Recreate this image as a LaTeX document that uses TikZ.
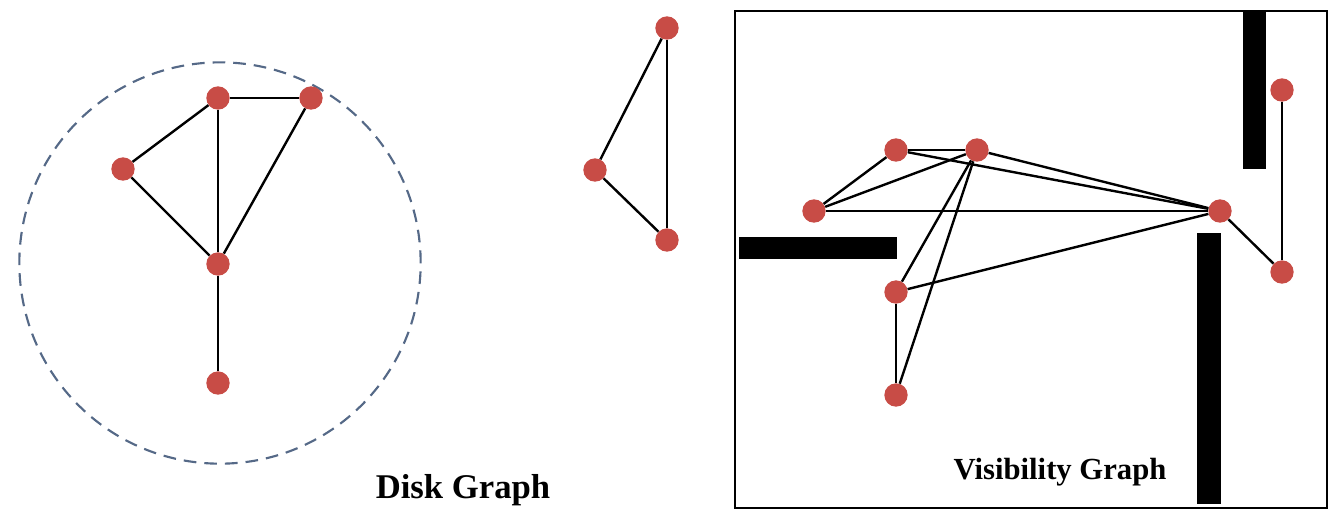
\documentclass[tikz,border=0pt]{standalone}
\usepackage{fontspec}
\setmainfont{Liberation Serif}
\usepackage{tikz}
\usetikzlibrary{positioning}

\definecolor{vertexred}{RGB}{200,76,70}
\definecolor{diskblue}{RGB}{85,105,135}

\begin{document}
\begin{tikzpicture}[
    x=0.75pt, y=-0.75pt,
    vertex/.style={circle, fill=vertexred, minimum size=17.5pt, inner sep=0pt},
    link/.style={line width=1.8pt, black},
    obstacle/.style={fill=black, draw=none},
    caption/.style={font=\bfseries, inner sep=0pt},
]
    \useasboundingbox (0,0) rectangle (1334,512);

    % disk graph
    \node (range) [circle, draw=diskblue, dashed, dash pattern=on 9.5pt off 6pt, line width=1.6pt, minimum size=301pt, inner sep=0pt] at (220,263) {};
    \node (d_top) [vertex] at (218,98) {};
    \node (d_right) [vertex] at (311,98) {};
    \node (d_left) [vertex] at (123,169) {};
    \node (d_mid) [vertex] at (218,264) {};
    \node (d_low) [vertex] at (218,383) {};
    \node (disk_label) [caption, font=\fontsize{26}{30}\selectfont\bfseries] at (463,490) {Disk Graph};

    % separate triangle
    \node (t_top) [vertex] at (667,28) {};
    \node (t_left) [vertex] at (595,170) {};
    \node (t_low) [vertex] at (667,240) {};

    % visibility graph frame and obstacles
    \draw [line width=1.6pt] (735,11) rectangle (1327,508);
    \fill [obstacle] (1243,12) rectangle (1266,169);
    \fill [obstacle] (739,237) rectangle (897,259);
    \fill [obstacle] (1197,233) rectangle (1221,504);

    \node (v_a) [vertex] at (896,150) {};
    \node (v_b) [vertex] at (977,150) {};
    \node (v_c) [vertex] at (814,211) {};
    \node (v_hub) [vertex] at (1220,211) {};
    \node (v_up) [vertex] at (1282,90) {};
    \node (v_dn) [vertex] at (1282,272) {};
    \node (v_mid) [vertex] at (896,292) {};
    \node (v_low) [vertex] at (896,395) {};
    \node (vis_label) [caption, font=\fontsize{23}{28}\selectfont\bfseries] at (1060,472) {Visibility Graph};

    \draw [link] (d_top) -- (d_right);
    \draw [link] (d_top) -- (d_left);
    \draw [link] (d_top) -- (d_mid);
    \draw [link] (d_right) -- (d_mid);
    \draw [link] (d_left) -- (d_mid);
    \draw [link] (d_mid) -- (d_low);

    \draw [link] (t_top) -- (t_left);
    \draw [link] (t_top) -- (t_low);
    \draw [link] (t_left) -- (t_low);

    \draw [link] (v_a) -- (v_b);
    \draw [link] (v_c) -- (v_a);
    \draw [link] (v_c) -- (v_b);
    \draw [link] (v_c) -- (v_hub);
    \draw [link] (v_a) -- (v_hub);
    \draw [link] (v_b) -- (v_hub);
    \draw [link] (v_b) -- (v_mid);
    \draw [link] (v_b) -- (v_low);
    \draw [link] (v_mid) -- (v_hub);
    \draw [link] (v_mid) -- (v_low);
    \draw [link] (v_hub) -- (v_dn);
    \draw [link] (v_up) -- (v_dn);

\end{tikzpicture}
\end{document}
